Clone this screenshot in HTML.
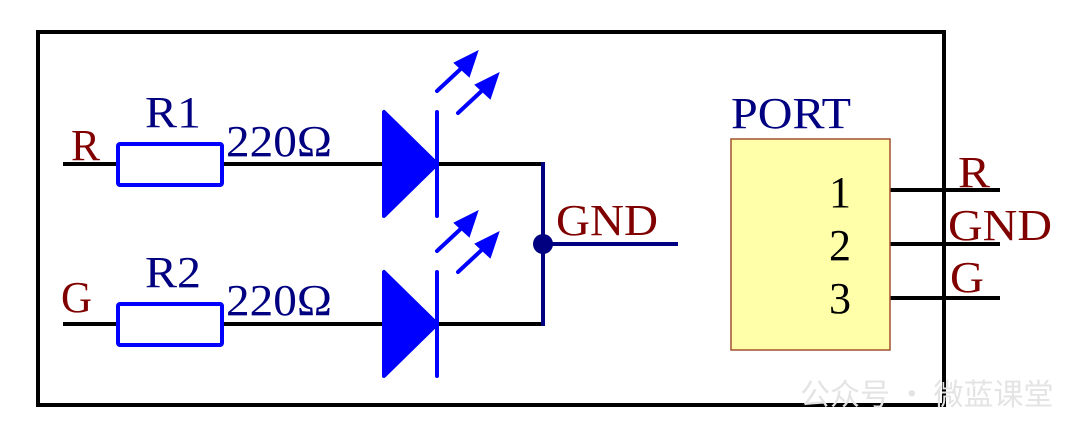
<!DOCTYPE html>
<html><head><meta charset="utf-8"><style>
html,body{margin:0;padding:0;background:#fff;width:1080px;height:438px;overflow:hidden}
text{font-family:"Liberation Serif",serif}
</style></head><body>
<svg width="1080" height="438" viewBox="0 0 1080 438" xmlns="http://www.w3.org/2000/svg">
<rect x="38" y="32" width="906" height="373" fill="none" stroke="#000" stroke-width="4"/>
<g stroke="#000" stroke-width="4" fill="none">
<line x1="63" y1="164" x2="117" y2="164"/>
<line x1="223" y1="164" x2="545" y2="164"/>
<line x1="63" y1="324" x2="117" y2="324"/>
<line x1="223" y1="324" x2="545" y2="324"/>
<line x1="890" y1="190" x2="1000" y2="190"/>
<line x1="890" y1="244" x2="1000" y2="244"/>
<line x1="890" y1="298" x2="1000" y2="298"/>
</g>
<g stroke="#000080" stroke-width="4" fill="none">
<line x1="543" y1="162" x2="543" y2="326"/>
<line x1="543" y1="244" x2="678" y2="244"/>
</g>
<circle cx="543" cy="244" r="10" fill="#000080"/>
<rect x="118" y="144" width="104" height="41" fill="#fff" stroke="#0000ff" stroke-width="4" rx="2"/>
<rect x="118" y="304" width="104" height="41" fill="#fff" stroke="#0000ff" stroke-width="4" rx="2"/>
<g fill="#0000ff" stroke="#0000ff" stroke-width="4" stroke-linejoin="round" stroke-linecap="round">
<polygon points="384,112 384,216 437,164"/>
<line x1="437" y1="112" x2="437" y2="216"/>
<polygon points="384,272 384,376 437,324"/>
<line x1="437" y1="272" x2="437" y2="376"/>
</g>
<g stroke="#0000ff" stroke-width="4" stroke-linecap="round" fill="#0000ff">
<line x1="437" y1="91" x2="466" y2="64"/><polygon points="477,52 469,76 455,63" stroke-width="2"/>
<line x1="458" y1="113" x2="487" y2="86"/><polygon points="498,74 490,98 476,85" stroke-width="2"/>
<line x1="437" y1="251" x2="466" y2="224"/><polygon points="477,212 469,236 455,223" stroke-width="2"/>
<line x1="458" y1="272" x2="487" y2="245"/><polygon points="498,233 490,257 476,244" stroke-width="2"/>
</g>
<rect x="731" y="139" width="159" height="211" fill="#ffffaa" stroke="#a0522d" stroke-width="1.5"/>
<g font-size="44">
<text x="71" y="160" fill="#800000" textLength="29" lengthAdjust="spacingAndGlyphs">R</text>
<text x="61" y="312" fill="#800000" textLength="31" lengthAdjust="spacingAndGlyphs">G</text>
<text x="145" y="127" fill="#000080" textLength="56" lengthAdjust="spacingAndGlyphs">R1</text>
<text x="145" y="287" fill="#000080" textLength="56" lengthAdjust="spacingAndGlyphs">R2</text>
<text x="226" y="156" fill="#000080" textLength="106" lengthAdjust="spacingAndGlyphs">220Ω</text>
<text x="226" y="315" fill="#000080" textLength="106" lengthAdjust="spacingAndGlyphs">220Ω</text>
<text x="556" y="235" fill="#800000" textLength="102" lengthAdjust="spacingAndGlyphs">GND</text>
<text x="731" y="128" fill="#000080" textLength="120" lengthAdjust="spacingAndGlyphs">PORT</text>
<text x="829" y="207" fill="#000">1</text>
<text x="829" y="260" fill="#000">2</text>
<text x="829" y="313" fill="#000">3</text>
<text x="958" y="187" fill="#800000" textLength="32" lengthAdjust="spacingAndGlyphs">R</text>
<text x="948" y="240" fill="#800000" textLength="104" lengthAdjust="spacingAndGlyphs">GND</text>
<text x="950" y="292" fill="#800000" textLength="34" lengthAdjust="spacingAndGlyphs">G</text>
</g>
<text x="800" y="405" font-size="30" fill="#e4e4e4" style='font-family:"Noto Sans CJK SC",sans-serif'>公众号 · 微蓝课堂</text>
</svg>
</body></html>
